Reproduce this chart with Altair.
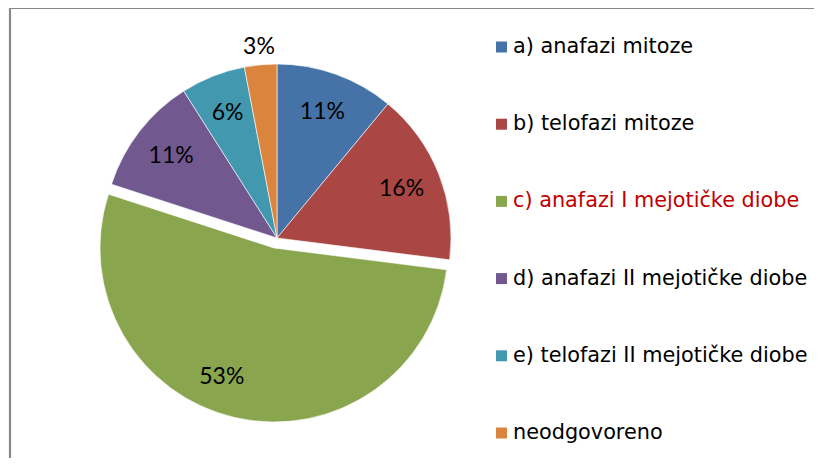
import altair as alt
import pandas as pd

labels = [
    "a) anafazi mitoze",
    "b) telofazi mitoze",
    "c) anafazi I mejotičke diobe",
    "d) anafazi II mejotičke diobe",
    "e) telofazi II mejotičke diobe",
    "neodgovoreno",
]
values = [11, 16, 53, 11, 6, 3]
colors = ["#4572A7", "#AA4643", "#89A54E", "#71588F", "#4198AF", "#DB843D"]

exploded = labels[2]
outside = labels[5]
highlight_label = labels[2]

df = pd.DataFrame({"label": labels, "value": values, "idx": list(range(len(labels)))})

cx, cy = 269, 230
R = 174

color_enc = alt.Color("label:N", scale=alt.Scale(domain=labels, range=colors), legend=None)

base = alt.Chart(df).transform_calculate(pct="datum.value + '%'").encode(
    theta=alt.Theta("value:Q", stack=True),
    order=alt.Order("idx:Q"),
)

is_ex = alt.datum.label == exploded
is_out = alt.datum.label == outside

arcs = base.mark_arc(radius=R, stroke="white", strokeWidth=0.6).encode(
    x=alt.value(cx), y=alt.value(cy), color=color_enc,
    opacity=alt.condition(is_ex, alt.value(0), alt.value(1)),
)
arc_ex = base.mark_arc(radius=R, stroke="white", strokeWidth=0.6).encode(
    x=alt.value(cx - 3), y=alt.value(cy + 10), color=color_enc,
    opacity=alt.condition(is_ex, alt.value(1), alt.value(0)),
)

lab_font = dict(font="Lato", fontSize=23, color="black")
lab_in = base.mark_text(radius=134, **lab_font).encode(
    x=alt.value(cx), y=alt.value(cy), text="pct:N",
    opacity=alt.condition((alt.datum.label != exploded) & (alt.datum.label != outside),
                          alt.value(1), alt.value(0)),
)
lab_ex = base.mark_text(radius=134, dx=-26, dy=8, **lab_font).encode(
    x=alt.value(cx), y=alt.value(cy), text="pct:N",
    opacity=alt.condition(is_ex, alt.value(1), alt.value(0)),
)
lab_out = base.mark_text(radius=192, **lab_font).encode(
    x=alt.value(cx), y=alt.value(cy), text="pct:N",
    opacity=alt.condition(is_out, alt.value(1), alt.value(0)),
)

yleg = alt.Y("label:N", sort=labels,
             scale=alt.Scale(domain=labels, range=[39, 425], padding=0), axis=None)

leg_sq = alt.Chart(df).mark_square(size=121, opacity=1).encode(
    x=alt.value(493.5), y=yleg, color=color_enc,
)
leg_txt = alt.Chart(df).mark_text(align="left", baseline="middle", font="DejaVu Sans", fontSize=20.8).encode(
    x=alt.value(505), y=yleg, text="label:N",
    color=alt.condition(alt.datum.label == highlight_label, alt.value("#C00000"), alt.value("black")),
)

border = alt.Chart(alt.Data(values=[{}])).mark_rect(
    fillOpacity=0, stroke="#888888", strokeWidth=2.2
).encode(x=alt.value(2), y=alt.value(0), x2=alt.value(1200), y2=alt.value(1200))

chart = alt.layer(border, arcs, arc_ex, lab_in, lab_ex, lab_out, leg_sq, leg_txt).properties(
    width=806, height=450, autosize="none", padding=0,
).configure_view(stroke=None)

chart.save("out.html", embed_options={"renderer": "svg", "actions": False})
